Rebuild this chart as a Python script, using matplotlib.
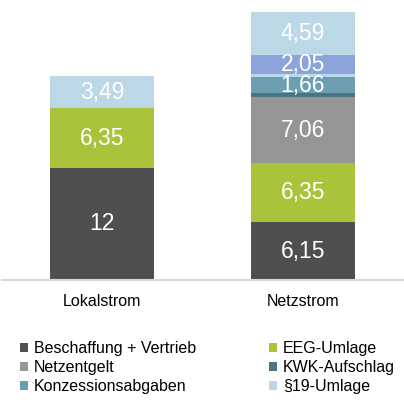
import matplotlib
matplotlib.use('Agg')
import matplotlib.pyplot as plt

# Strompreis-Bestandteile in ct/kWh
categories = ['Lokalstrom', 'Netzstrom']
beschaffung = [12, 6.15]
eeg_umlage = [6.35, 6.35]
netzentgelt = [0, 7.06]
kwk_aufschlag = [0, 0.45]
konzession = [0, 1.66]
umlage_19 = [0, 0.38]
stromsteuer = [0, 2.05]
mwst = [3.49, 4.59]

series = [
    ('Beschaffung + Vertrieb', beschaffung, '#4f4f4f', True),
    ('EEG-Umlage', eeg_umlage, '#a9c43b', True),
    ('Netzentgelt', netzentgelt, '#959595', True),
    ('KWK-Aufschlag', kwk_aufschlag, '#4a7383', True),
    ('Konzessionsabgaben', konzession, '#6a9eb0', True),
    ('§19-Umlage', umlage_19, '#bcd7e6', True),
    ('Stromsteuer', stromsteuer, '#8ba4da', False),
    ('Mehrwertsteuer', mwst, '#bcd7e6', False),
]

plt.rcParams['font.family'] = ['Liberation Sans', 'DejaVu Sans']

fig = plt.figure(figsize=(4.04, 4.0), dpi=100)
ax = fig.add_axes([2 / 404, 0.3, 401 / 404, 275 / 400])

x = list(range(len(categories)))
bottom = [0.0] * len(categories)
handles = {}
for name, vals, color, in_legend in series:
    bars = ax.bar(x, vals, width=0.52, bottom=bottom, color=color, linewidth=0)
    for xi, v, b in zip(x, vals, bottom):
        if v >= 1:
            ax.text(xi, b + v / 2, '{:g}'.format(v).replace('.', ','),
                    ha='center', va='center', color='white', fontsize=16.5)
    if in_legend:
        handles[name] = bars
    bottom = [b + v for b, v in zip(bottom, vals)]

ax.set_xlim(-0.5, 1.5)
ax.set_ylim(0, 29.4)
for s in ['top', 'right', 'left']:
    ax.spines[s].set_visible(False)
ax.spines['bottom'].set_color('#d9d9d9')
ax.spines['bottom'].set_linewidth(1.5)
ax.set_yticks([])
ax.set_xticks(x)
ax.set_xticklabels(categories, fontsize=11.5)
ax.tick_params(axis='x', length=0, pad=10)

order = ['Beschaffung + Vertrieb', 'Netzentgelt', 'Konzessionsabgaben',
         'EEG-Umlage', 'KWK-Aufschlag', '§19-Umlage']
fig.legend([handles[n] for n in order], order, ncol=2, frameon=False,
           loc='upper left', bbox_to_anchor=(20 / 404, 1 - 341 / 400),
           borderpad=0, borderaxespad=0, fontsize=11.5,
           handlelength=0.5, handleheight=0.5, handletextpad=0.35,
           labelspacing=0.25, columnspacing=4.6)

fig.savefig('out.png', dpi=100)
